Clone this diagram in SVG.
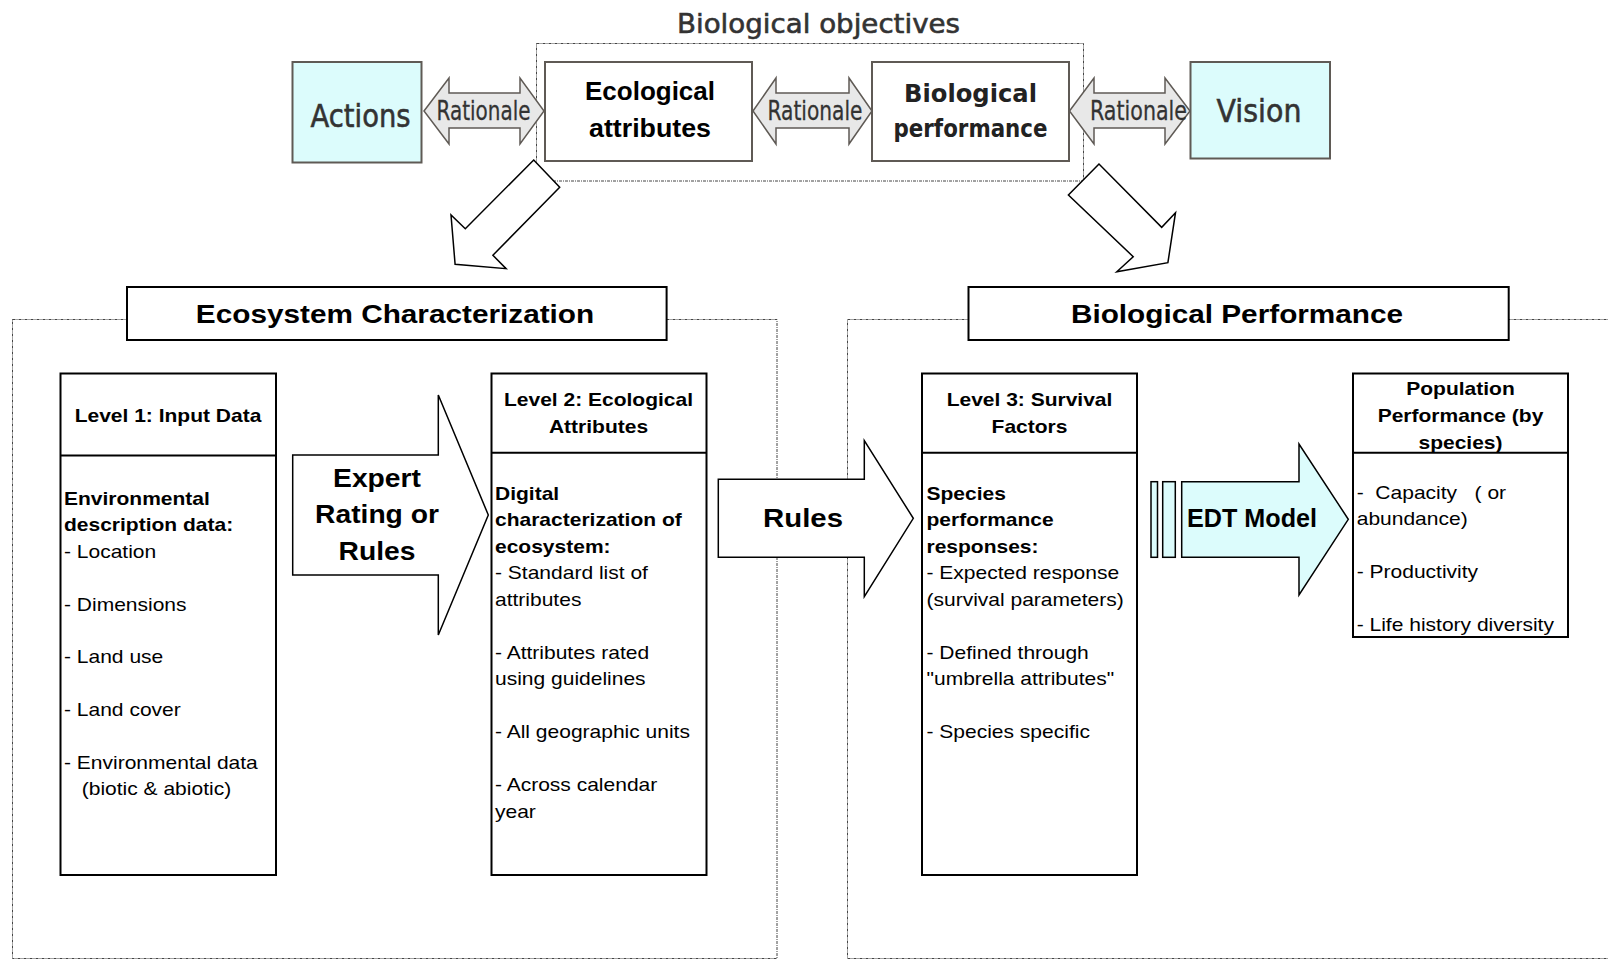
<svg xmlns="http://www.w3.org/2000/svg" width="1608" height="960" viewBox="0 0 1608 960">
<style>
.bg{fill:#fff}
.box{fill:#fff;stroke:#000;stroke-width:2}
.tbox{stroke:#5f5a55;stroke-width:2}
.dot{fill:none;stroke:#444;stroke-width:1;stroke-dasharray:3 1 1 1}
.arw{fill:#fff;stroke:#000;stroke-width:1.5;stroke-linejoin:miter}
.cyan{fill:#dcfcfc}
.rat{fill:#e8e8e8;stroke:#5f5a55;stroke-width:1.5}
.body{font-family:"Liberation Sans",Arial,sans-serif;font-size:18.6px;fill:#000}
.b{font-weight:bold}
.tah{font-family:"DejaVu Sans",Verdana,sans-serif;fill:#333;stroke:#333;stroke-width:0.6}
.hd{font-family:"Liberation Sans",Arial,sans-serif;font-weight:bold;fill:#000}
</style>
<rect class="bg" x="0" y="0" width="1608" height="960"/>

<g id="frames">
  <rect class="dot" x="536.5" y="43.5" width="547" height="137.5"/>
  <rect class="dot" x="12.5" y="319.5" width="764.5" height="639"/>
  <rect class="dot" x="847.5" y="319.5" width="780" height="639"/>
</g>

<text id="title" class="tah" x="818.5" y="33" font-size="27" text-anchor="middle" textLength="283" lengthAdjust="spacingAndGlyphs">Biological objectives</text>

<g id="actions">
  <rect class="tbox cyan" x="292.5" y="62" width="129" height="100.5"/>
  <text class="tah" x="360.5" y="127" font-size="32" text-anchor="middle" textLength="100" lengthAdjust="spacingAndGlyphs">Actions</text>
</g>
<g id="ecological-attributes">
  <rect class="tbox" fill="#fff" x="545" y="62" width="207" height="99"/>
  <text class="hd" x="650" y="100" font-size="26" text-anchor="middle" textLength="130" lengthAdjust="spacingAndGlyphs">Ecological</text>
  <text class="hd" x="650" y="136.5" font-size="26" text-anchor="middle" textLength="122" lengthAdjust="spacingAndGlyphs">attributes</text>
</g>
<g id="biological-performance">
  <rect class="tbox" fill="#fff" x="872" y="62" width="197" height="99"/>
  <text class="tah" style="fill:#222;stroke:none" font-weight="bold" x="970.5" y="101.5" font-size="25" text-anchor="middle" textLength="133" lengthAdjust="spacingAndGlyphs">Biological</text>
  <text class="tah" style="fill:#222;stroke:none" font-weight="bold" x="970.5" y="136.5" font-size="25" text-anchor="middle" textLength="154" lengthAdjust="spacingAndGlyphs">performance</text>
</g>
<g id="vision">
  <rect class="tbox cyan" x="1190.5" y="62" width="139.5" height="96.5"/>
  <text class="tah" x="1259" y="122" font-size="32" text-anchor="middle" textLength="85" lengthAdjust="spacingAndGlyphs">Vision</text>
</g>

<g id="connectors">
  <path class="rat" d="M424,111 L449,78 L449,93 L520,93 L520,78 L544,111 L520,144 L520,128 L449,128 L449,144 Z"/>
  <text class="tah" style="stroke-width:0.3" x="483.5" y="120" font-size="26" text-anchor="middle" textLength="94" lengthAdjust="spacingAndGlyphs">Rationale</text>
  <path class="rat" d="M753,111 L776,78 L776,93 L849,93 L849,78 L872,111 L849,144 L849,128 L776,128 L776,144 Z"/>
  <text class="tah" style="stroke-width:0.3" x="815" y="120" font-size="26" text-anchor="middle" textLength="95" lengthAdjust="spacingAndGlyphs">Rationale</text>
  <path class="rat" d="M1069.5,111 L1094,78 L1094,93 L1165,93 L1165,78 L1190,111 L1165,144 L1165,128 L1094,128 L1094,144 Z"/>
  <text class="tah" style="stroke-width:0.3" x="1138.5" y="120" font-size="26" text-anchor="middle" textLength="97" lengthAdjust="spacingAndGlyphs">Rationale</text>

  <path class="arw" d="M533.7,160 L559.7,187.3 L492.9,255.3 L506.1,268.7 L455.1,264.3 L451,215 L465.3,228.7 Z"/>
  <path class="arw" d="M1099,164 L1068.4,195 L1133.2,256.7 L1116.8,271.7 L1167.9,262.7 L1175.5,212.7 L1161.7,227.3 Z"/>

  <path class="arw" d="M292.7,455 L438.3,455 L438.3,395 L488.3,515 L438.3,635 L438.3,575 L292.7,575 Z"/>
  <path class="arw" d="M718.3,479.3 L864.3,479.3 L864.3,440.7 L913.3,518.3 L864.3,596.7 L864.3,557.3 L718.3,557.3 Z"/>

  <rect class="arw cyan" x="1151" y="481.7" width="6.5" height="75.6"/>
  <rect class="arw cyan" x="1162.7" y="481.7" width="12.6" height="75.6"/>
  <path class="arw cyan" d="M1181.7,481.7 L1299,481.7 L1299,444 L1348.3,519.3 L1299,595 L1299,557.3 L1181.7,557.3 Z"/>
</g>

<g id="expert-label">
  <text class="hd" font-size="25" text-anchor="middle" transform="translate(377,486.7) scale(1.13,1)">
    <tspan x="0" y="0">Expert</tspan><tspan x="0" y="36.7">Rating or</tspan><tspan x="0" y="73.3">Rules</tspan>
  </text>
</g>
<g id="rules-label">
  <text class="hd" font-size="26" text-anchor="middle" transform="translate(803,527.3) scale(1.13,1)">Rules</text>
</g>
<g id="edt-label">
  <text class="hd" x="1252" y="527.3" font-size="26" text-anchor="middle" textLength="130" lengthAdjust="spacingAndGlyphs">EDT Model</text>
</g>

<g id="ecosystem-characterization">
  <rect class="box" x="127" y="287" width="539.6" height="53"/>
  <text class="hd" font-size="25" text-anchor="middle" transform="translate(395,322.7) scale(1.19,1)">Ecosystem Characterization</text>
</g>
<g id="biological-performance-header">
  <rect class="box" x="968.5" y="287" width="540.2" height="53"/>
  <text class="hd" font-size="25" text-anchor="middle" transform="translate(1237,322.7) scale(1.19,1)">Biological Performance</text>
</g>

<g id="level1">
  <rect class="box" x="60.5" y="373.5" width="215.5" height="501.5"/>
  <line x1="60.5" y1="455.5" x2="276" y2="455.5" stroke="#000" stroke-width="2"/>
  <text class="body b" text-anchor="middle" transform="translate(168,421.7) scale(1.13,1)">Level 1: Input Data</text>
  <text class="body" transform="translate(64,505) scale(1.13,1)">
    <tspan class="b" x="0" y="0">Environmental</tspan>
    <tspan class="b" x="0" y="26.4">description data:</tspan>
    <tspan x="0" y="52.8">- Location</tspan>
    <tspan x="0" y="105.6">- Dimensions</tspan>
    <tspan x="0" y="158.4">- Land use</tspan>
    <tspan x="0" y="211.2">- Land cover</tspan>
    <tspan x="0" y="264">- Environmental data</tspan>
    <tspan x="15.7" y="290.4">(biotic &amp; abiotic)</tspan>
  </text>
</g>

<g id="level2">
  <rect class="box" x="491.5" y="373.5" width="215" height="501.5"/>
  <line x1="491.5" y1="452.7" x2="706.5" y2="452.7" stroke="#000" stroke-width="2"/>
  <text class="body b" text-anchor="middle" transform="translate(598.5,406) scale(1.13,1)">
    <tspan x="0" y="0">Level 2: Ecological</tspan><tspan x="0" y="27">Attributes</tspan>
  </text>
  <text class="body" transform="translate(495,500) scale(1.13,1)">
    <tspan class="b" x="0" y="0">Digital</tspan>
    <tspan class="b" x="0" y="26.5">characterization of</tspan>
    <tspan class="b" x="0" y="53">ecosystem:</tspan>
    <tspan x="0" y="79.5">- Standard list of</tspan>
    <tspan x="0" y="106">attributes</tspan>
    <tspan x="0" y="159">- Attributes rated</tspan>
    <tspan x="0" y="185.5">using guidelines</tspan>
    <tspan x="0" y="238.5">- All geographic units</tspan>
    <tspan x="0" y="291.5">- Across calendar</tspan>
    <tspan x="0" y="318">year</tspan>
  </text>
</g>

<g id="level3">
  <rect class="box" x="922" y="373.5" width="215" height="501.5"/>
  <line x1="922" y1="452.7" x2="1137" y2="452.7" stroke="#000" stroke-width="2"/>
  <text class="body b" text-anchor="middle" transform="translate(1029.5,406) scale(1.13,1)">
    <tspan x="0" y="0">Level 3: Survival</tspan><tspan x="0" y="27">Factors</tspan>
  </text>
  <text class="body" transform="translate(926.5,500) scale(1.13,1)">
    <tspan class="b" x="0" y="0">Species</tspan>
    <tspan class="b" x="0" y="26.5">performance</tspan>
    <tspan class="b" x="0" y="53">responses:</tspan>
    <tspan x="0" y="79.5">- Expected response</tspan>
    <tspan x="0" y="106">(survival parameters)</tspan>
    <tspan x="0" y="159">- Defined through</tspan>
    <tspan x="0" y="185.5">"umbrella attributes"</tspan>
    <tspan x="0" y="238.5">- Species specific</tspan>
  </text>
</g>

<g id="population">
  <rect class="box" x="1353" y="373.5" width="215" height="263.5"/>
  <text class="body b" text-anchor="middle" transform="translate(1460.5,395) scale(1.13,1)">
    <tspan x="0" y="0">Population</tspan><tspan x="0" y="27">Performance (by</tspan><tspan x="0" y="54">species)</tspan>
  </text>
  <line x1="1353" y1="452.7" x2="1568" y2="452.7" stroke="#000" stroke-width="2"/>
  <text class="body" xml:space="preserve" style="white-space:pre" transform="translate(1356.7,498.5) scale(1.13,1)"><tspan x="0" y="0">-  Capacity   ( or</tspan><tspan x="0" y="26.5">abundance)</tspan><tspan x="0" y="79.5">- Productivity</tspan><tspan x="0" y="132.5">- Life history diversity</tspan></text>
</g>
</svg>
